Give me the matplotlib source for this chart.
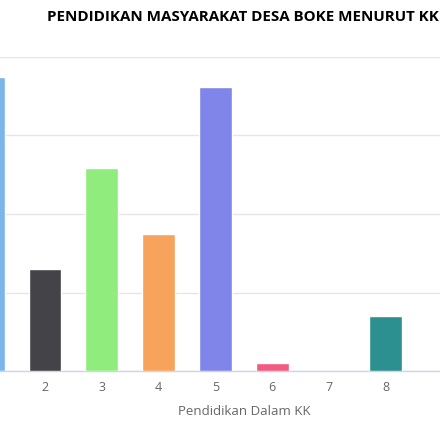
import matplotlib
matplotlib.use("Agg")
import matplotlib.pyplot as plt

# data (y labels are cut off, grid step taken as 50)
categories = [1, 2, 3, 4, 5, 6, 7, 8]
values = [187, 65, 129, 87, 181, 5, 0, 35]
colors = ['#7cb5ec', '#434348', '#90ed7d', '#f7a35c',
          '#8085e9', '#f15c80', '#e4d354', '#2b908f']
tick_labels = ['1', '2', '3', '4', '5', '6', '7', '8']

plt.rcParams['font.family'] = ['Open Sans', 'DejaVu Sans']

fig = plt.figure(figsize=(4.4, 4.4), dpi=100)
ax = fig.add_axes([0, 69 / 440, 1, 314 / 440])

ax.bar(categories, values, width=0.58, color=colors,
       edgecolor='white', linewidth=1, zorder=3)

ax.set_yticks([0, 50, 100, 150, 200])
ax.set_yticklabels([])
ax.tick_params(axis='y', length=0)
ax.yaxis.grid(True, color='#e6e6e6', linewidth=1, zorder=0)
ax.set_axisbelow(True)

ax.set_xticks(categories[1:])
ax.set_xticklabels(tick_labels[1:], color='#666666', fontsize=9)
ax.tick_params(axis='x', length=0, pad=7)

ax.set_xlim(1.208, 8.954)
ax.set_ylim(0, 200)

for s in ['top', 'left', 'right']:
    ax.spines[s].set_visible(False)
ax.spines['bottom'].set_color('#ccd6eb')
ax.spines['bottom'].set_linewidth(1)

ax.set_xlabel('Pendidikan Dalam KK', color='#666666', fontsize=9.5)
ax.xaxis.set_label_coords(244 / 440, -34 / 314)

fig.text(47 / 440, 1 - 17 / 440, 'PENDIDIKAN MASYARAKAT DESA BOKE MENURUT KK',
         ha='left', va='center', fontsize=10.9, fontweight='bold', color='black')

fig.savefig('out.png', dpi=100)
